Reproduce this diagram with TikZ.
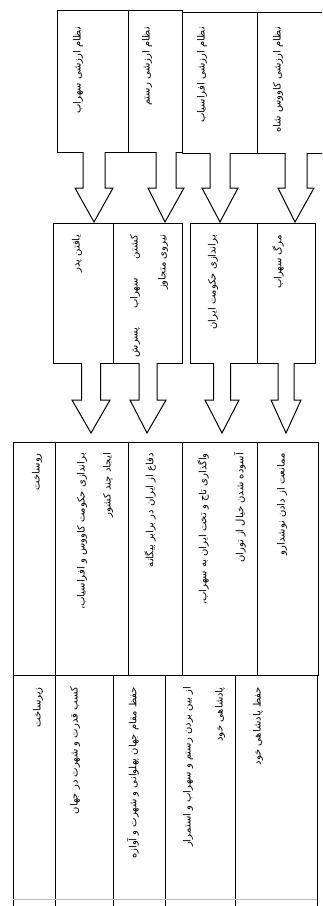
\documentclass[tikz,border=0pt]{standalone}
\usepackage{fontspec}
\usetikzlibrary{calc}
\TeXXeTstate=1
\newfontfamily\fa[Script=Arabic]{DejaVu Sans}
\newcommand\rl[1]{\beginR #1\endR}
\tikzset{
  cell/.style={draw, line width=1pt, anchor=north west, inner sep=0pt, outer sep=0pt, rectangle},
  lbl/.style={rotate=90, anchor=east, inner sep=0pt, font=\fa\fontsize{10}{11}\selectfont},
  arr/.style={draw, line width=1pt, line join=miter},
}
\newcommand\blockarrow[5]{%
  \fill[white] let \p1=(#1), \p2=(#2) in
    (\x1-#3pt,\y1+1pt) -- (\x1-#3pt,\y2+#5pt) -- (\x1-#4pt,\y2+#5pt) -- (\x2,\y2) --
    (\x1+#4pt,\y2+#5pt) -- (\x1+#3pt,\y2+#5pt) -- (\x1+#3pt,\y1+1pt) -- cycle;
  \draw[arr] let \p1=(#1), \p2=(#2) in
    (\x1-#3pt,\y1) -- (\x1-#3pt,\y2+#5pt) -- (\x1-#4pt,\y2+#5pt) -- (\x2,\y2) --
    (\x1+#4pt,\y2+#5pt) -- (\x1+#3pt,\y2+#5pt) -- (\x1+#3pt,\y1);
}
\begin{document}
\begin{tikzpicture}[x=1pt,y=-1pt]
\useasboundingbox (0,0) rectangle (322,906);
\clip (0,0) rectangle (322,906);
\fill[white] (0,0) rectangle (322,906);
% row 1: value systems
\node[cell, minimum width=71pt, minimum height=142pt] (v1) at (57,10) {};
\node[cell, minimum width=54pt, minimum height=142pt] (v2) at (128,10) {};
\node[cell, minimum width=75pt, minimum height=141pt] (v3) at (182,12) {};
\node[cell, minimum width=72pt, minimum height=141pt] (v4) at (257,12) {};
% row 2
\node[cell, minimum width=60pt, minimum height=140pt] (e1) at (53,223) {};
\node[cell, minimum width=69pt, minimum height=140pt] (e2) at (113,223) {};
\node[cell, minimum width=67pt, minimum height=140pt] (e3) at (190,223) {};
\node[cell, minimum width=58pt, minimum height=140pt] (e4) at (257,223) {};
% row 3
\node[cell, minimum width=42pt, minimum height=233pt] (r0) at (13,442) {};
\node[cell, minimum width=73pt, minimum height=233pt] (r1) at (55,442) {};
\node[cell, minimum width=54pt, minimum height=233pt] (r2) at (128,442) {};
\node[cell, minimum width=75pt, minimum height=233pt] (r3) at (182,442) {};
\node[cell, minimum width=61pt, minimum height=233pt] (r4) at (257,442) {};
% row 4
\node[cell, minimum width=42pt, minimum height=240pt] (z0) at (13,675) {};
\node[cell, minimum width=58pt, minimum height=240pt] (z1) at (55,675) {};
\node[cell, minimum width=52pt, minimum height=240pt] (z2) at (113,675) {};
\node[cell, minimum width=70pt, minimum height=240pt] (z3) at (165,675) {};
\node[cell, minimum width=82pt, minimum height=240pt] (z4) at (235,675) {};
\draw[black!25, line width=0.5pt] (z0.west |- 0,899) coordinate (zb1) -- (z4.east |- 0,899) coordinate (zb2);
% arrows row 1 -> row 2
\coordinate (a1s) at (94,0 |- v1.south);  \coordinate (a1t) at (94,222);
\coordinate (a2s) at (166,0 |- v2.south); \coordinate (a2t) at (165,222);
\coordinate (a3s) at (220,0 |- v3.south); \coordinate (a3t) at (220,222);
\coordinate (a4s) at (296,0 |- v4.south); \coordinate (a4t) at (295,222);
\blockarrow{a1s}{a1t}{11}{19}{34}
\blockarrow{a2s}{a2t}{10}{18}{34}
\blockarrow{a3s}{a3t}{10}{18}{34}
\blockarrow{a4s}{a4t}{11}{18}{34}
% arrows row 2 -> row 3
\coordinate (b1s) at (91,0 |- e1.south);  \coordinate (b1t) at (91,433);
\coordinate (b2s) at (148,0 |- e2.south); \coordinate (b2t) at (147,433);
\coordinate (b3s) at (222,0 |- e3.south); \coordinate (b3t) at (222,433);
\coordinate (b4s) at (286,0 |- e4.south); \coordinate (b4t) at (286,433);
\blockarrow{b1s}{b1t}{9.5}{19}{33}
\blockarrow{b2s}{b2t}{9}{18}{33}
\blockarrow{b3s}{b3t}{8.5}{17}{33}
\blockarrow{b4s}{b4t}{8}{15}{33}
% labels row 1
\node[lbl] (t1) at (78,27) {\rl{نظام ارزشی سهراب}};
\node[lbl] (t2) at (147,27) {\rl{نظام ارزشی رستم}};
\node[lbl] (t3) at (202,27) {\rl{نظام ارزشی افراسیاب}};
\node[lbl] (t4) at (278,27) {\rl{نظام ارزشی کاووس شاه}};
% labels row 2
\node[lbl] (u1) at (77,235) {\rl{یافتن پدر}};
\node[lbl] (u2) at (135,235) {\hbox to 122pt{\beginR کشتن\hfil سهراب\hfil پسرش\endR}};
\node[lbl] (u3) at (163,235) {\rl{نیروی متجاوز}};
\node[lbl] (u4) at (213,235) {\rl{براندازی حکومت ایران}};
\node[lbl] (u5) at (278,235) {\rl{مرگ سهراب}};
% labels row 3
\node[lbl] (s0) at (37,453) {\rl{روساخت}};
\node[lbl] (s1) at (82,453) {\rl{براندازی حکومت کاووس و افراسیاب،}};
\node[lbl] (s2) at (108,453) {\rl{ایجاد چند کشور}};
\node[lbl] (s3) at (150,453) {\rl{دفاع از ایران در برابر بیگانه}};
\node[lbl] (s4) at (203,453) {\rl{واگذاری تاج و تخت ایران به سهراب،}};
\node[lbl] (s5) at (240,453) {\rl{آسوده شدن خیال از توران}};
\node[lbl] (s6) at (282,453) {\rl{ممانعت از دادن نوشدارو}};
% labels row 4
\node[lbl] (w0) at (38,687) {\rl{زیرساخت}};
\node[lbl] (w1) at (75,687) {\rl{کسب قدرت و شهرت در جهان}};
\node[lbl] (w2) at (133,687) {\rl{حفظ مقام جهان پهلوانی و شهرت و آوازه}};
\node[lbl] (w3) at (188,687) {\rl{از بین بردن رستم و سهراب و استمرار}};
\node[lbl] (w4) at (220,687) {\rl{پادشاهی خود}};
\node[lbl] (w5) at (258,687) {\rl{حفظ پادشاهی خود}};
\end{tikzpicture}
\end{document}
